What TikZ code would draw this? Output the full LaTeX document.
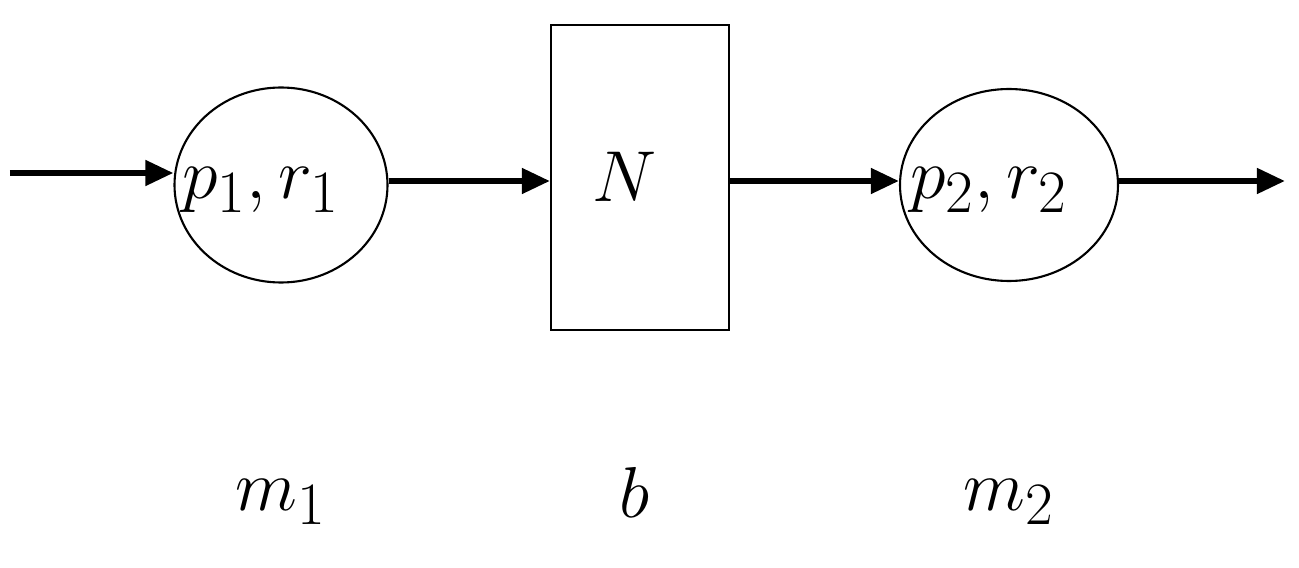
\documentclass[tikz,border=0pt]{standalone}
\usetikzlibrary{shapes.geometric,arrows.meta}
\begin{document}
\begin{tikzpicture}[
  lbl/.style={font=\fontsize{30}{36}\selectfont,scale=1.65},
  circ/.style={draw,line width=1.2pt,ellipse,inner sep=0pt},
  arr/.style={line width=3.4pt,-{Triangle[length=16pt,width=14pt]}}]
\useasboundingbox (0,0) rectangle (25.98,11.34);
\node[circ,minimum width=4.26cm,minimum height=3.9cm] (c1) at (5.62,7.64) {};
\node[lbl] (t1) at (5.22,7.54) {$p_1,r_1$};
\node[circ,minimum width=4.36cm,minimum height=3.84cm] (c2) at (20.18,7.64) {};
\node[lbl] (t2) at (19.78,7.54) {$p_2,r_2$};
\node[draw,line width=1.2pt,minimum width=3.56cm,minimum height=6.1cm,inner sep=0pt] (n) at (12.8,7.79) {};
\node[lbl] (tn) at (12.5,7.8) {$N$};
\coordinate (in) at (0.2,7.88);
\coordinate (out) at (25.7,7.72);
\draw[arr] (in) -- (c1.west |- in);
\draw[arr] (c1.east |- 0,7.72) -- (n.west |- 0,7.72);
\draw[arr] (n.east |- 0,7.72) -- (c2.west |- 0,7.72);
\draw[arr] (c2.east |- out) -- (out);
\node[lbl] (m1) at (5.62,1.3) {$m_1$};
\node[lbl] (b) at (12.7,1.5) {$b$};
\node[lbl] (m2) at (20.18,1.3) {$m_2$};
\end{tikzpicture}
\end{document}
